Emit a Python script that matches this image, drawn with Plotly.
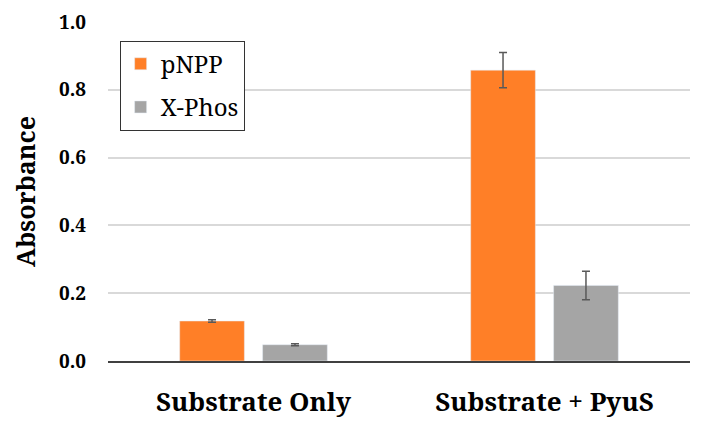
import plotly.graph_objects as go

categories = ["Substrate Only", "Substrate + PyuS"]
pnpp = [0.118, 0.858]
pnpp_err = [0.004, 0.052]
xphos = [0.048, 0.223]
xphos_err = [0.003, 0.042]

font_fam = "Noto Serif"
err_style = dict(type="data", visible=True, color="#595959", thickness=1.5, width=4)

fig = go.Figure()
fig.add_trace(go.Bar(name="pNPP", x=categories, y=pnpp, marker_color="#FF7F27",
                     legendgroup="a",
                     error_y=dict(array=pnpp_err, **err_style)))
fig.add_trace(go.Bar(name="X-Phos", x=categories, y=xphos, marker_color="#A5A5A5",
                     legendgroup="b",
                     error_y=dict(array=xphos_err, **err_style)))

fig.update_layout(
    width=701, height=422,
    margin=dict(l=100, r=19, t=14, b=69, autoexpand=False),
    paper_bgcolor="white", plot_bgcolor="white",
    barmode="group", bargap=0.43, bargroupgap=0.22,
    font=dict(family=font_fam, color="black"),
    legend=dict(x=0.02, y=0.945, xanchor="left", yanchor="top",
                bordercolor="#333333", borderwidth=1, bgcolor="white",
                font=dict(size=24, family=font_fam, color="black"),
                itemwidth=30, traceorder="grouped", tracegroupgap=9),
    yaxis=dict(range=[0, 1.0], dtick=0.2, tickformat=".1f",
               showgrid=True, gridcolor="#D9D9D9", gridwidth=1.5,
               zeroline=False, showline=False, ticks="",
               ticklabelstandoff=21,
               tickfont=dict(size=19, family=font_fam, color="black", weight="bold"),
               title=dict(text="<b>Absorbance</b>", font=dict(size=25, family=font_fam),
                          standoff=19)),
    xaxis=dict(showline=True, linecolor="#404040", linewidth=1.5, ticks="",
               ticklabelstandoff=17,
               tickfont=dict(size=26, family=font_fam, color="black", weight="bold")),
)
fig.write_html("out.html")
